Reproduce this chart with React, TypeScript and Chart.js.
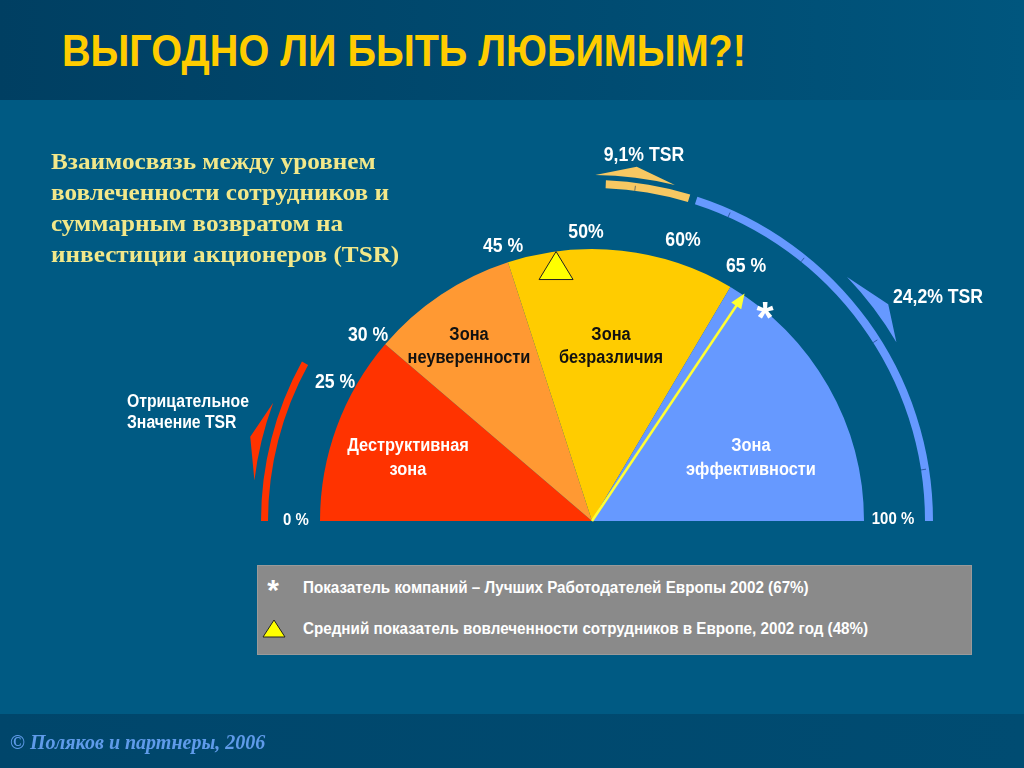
import React, { useEffect, useRef } from "react";
import { Chart, registerables } from "chart.js";

Chart.register(...registerables);

// ---- data ----
const zoneNames = ["Деструктивная зона", "Зона неуверенности", "Зона безразличия", "Зона эффективности"];
const zoneShares = [22.5, 17.5, 27, 33];
const zoneColors = ["#FF3300", "#FF9933", "#FFCC00", "#6699FF"];

const outerRingShares = [51.3, 8, 0.7, 40];
const outerRingColors = ["rgba(0,0,0,0)", "#F7C862", "rgba(0,0,0,0)", "#6699FF"];
const outerRingTicks = [54.1, 63.4, 71.6, 82, 95.1];

const innerRingShares = [16, 84];
const innerRingColors = ["#FF3300", "rgba(0,0,0,0)"];

// ring weights (outer -> inner), in px of radius
const ringWeights = [8, 2, 7, 52, 272];

const scaleLabels = ["0 %", "25 %", "30 %", "45 %", "50%", "60%", "65 %", "100 %"];
const tsrLabels = ["9,1% TSR", "24,2% TSR"];
const negativeLabel = ["Отрицательное", "Значение TSR"];

// tapered TSR arrows: [start %, peak %, end %]
const negWedge = [11.3, 7.7, 3.8];
const midWedge = [50.3, 54, 57.7];
const topWedge = [75.7, 79.9, 83.1];

const avgEngagementMark = 45.5; // triangle marker
const bestEmployersMark = 68.8; // yellow arrow

const legendTexts = [
  "Показатель компаний – Лучших Работодателей Европы 2002 (67%)",
  "Средний показатель вовлеченности сотрудников в Европе, 2002 год (48%)",
];

const SANS = '"Liberation Sans", Arial, sans-serif';
const SERIF = '"Liberation Serif", "Times New Roman", serif';

const decorPlugin = {
  id: "decor",
  afterDatasetsDraw(chart: any) {
    const outer = chart.getDatasetMeta(0).data[0] as any;
    if (!outer) return;
    const cx = outer.x;
    const cy = outer.y;
    const k = outer.outerRadius / 341;
    const ang = (p: number) => Math.PI + (p / 100) * Math.PI;
    const pt = (p: number, r: number) => [cx + r * k * Math.cos(ang(p)), cy + r * k * Math.sin(ang(p))];
    const ctx = chart.ctx as CanvasRenderingContext2D;
    ctx.save();

    // small notches on the outer ring
    ctx.strokeStyle = "rgba(0,40,90,0.55)";
    ctx.lineWidth = 1;
    outerRingTicks.forEach((p) => {
      const a = pt(p, 333);
      const b = pt(p, 338);
      ctx.beginPath();
      ctx.moveTo(a[0], a[1]);
      ctx.lineTo(b[0], b[1]);
      ctx.stroke();
    });

    const wedge = (w: number[], r0: number, r1: number, color: string) => {
      const [s, m, e] = w;
      ctx.beginPath();
      const p0 = pt(s, r0);
      ctx.moveTo(p0[0], p0[1]);
      ctx.arc(cx, cy, r0 * k, ang(s), ang(e), e < s);
      const pm = pt(m, r1);
      ctx.lineTo(pm[0], pm[1]);
      ctx.closePath();
      ctx.fillStyle = color;
      ctx.fill();
    };
    wedge(negWedge, 340, 352, "#FF3300");
    wedge(midWedge, 346, 357, "#F7C862");
    wedge(topWedge, 353, 367, "#6699FF");

    // best employers arrow
    const tip = pt(bestEmployersMark, 274);
    const dx = tip[0] - cx;
    const dy = tip[1] - cy;
    const len = Math.hypot(dx, dy);
    const ux = dx / len;
    const uy = dy / len;
    ctx.strokeStyle = "#FFFF33";
    ctx.lineWidth = 2.5;
    ctx.beginPath();
    ctx.moveTo(cx, cy);
    ctx.lineTo(tip[0] - ux * 10, tip[1] - uy * 10);
    ctx.stroke();
    ctx.fillStyle = "#FFFF33";
    ctx.beginPath();
    ctx.moveTo(tip[0], tip[1]);
    ctx.lineTo(tip[0] - ux * 15 - uy * 6, tip[1] - uy * 15 + ux * 6);
    ctx.lineTo(tip[0] - ux * 15 + uy * 6, tip[1] - uy * 15 - ux * 6);
    ctx.closePath();
    ctx.fill();

    // average engagement triangle
    const c = pt(avgEngagementMark, 255);
    ctx.beginPath();
    ctx.moveTo(c[0], c[1] - 17);
    ctx.lineTo(c[0] + 17, c[1] + 11);
    ctx.lineTo(c[0] - 17, c[1] + 11);
    ctx.closePath();
    ctx.fillStyle = "#FFFF00";
    ctx.fill();
    ctx.strokeStyle = "#222";
    ctx.lineWidth = 1;
    ctx.stroke();
    ctx.restore();
  },
};

type LP = {
  x: number;
  y: number;
  children: React.ReactNode;
  style?: React.CSSProperties;
  align?: "center" | "left";
  sx?: number;
};
function Label({ x, y, children, style, align = "center", sx = 0.84 }: LP) {
  return (
    <div
      style={{
        position: "absolute",
        left: x,
        top: y,
        transform:
          align === "center" ? `translate(-50%, -50%) scaleX(${sx})` : `translate(0, -50%) scaleX(${sx})`,
        transformOrigin: align === "center" ? "50% 50%" : "0% 50%",
        whiteSpace: "nowrap",
        fontFamily: SANS,
        fontWeight: 700,
        fontSize: 21,
        color: "#FFFFFF",
        lineHeight: 1,
        textAlign: align,
        ...style,
      }}
    >
      {children}
    </div>
  );
}

export default function App() {
  const ref = useRef<HTMLCanvasElement | null>(null);

  useEffect(() => {
    document.body.style.margin = "0";
    const canvas = ref.current;
    if (!canvas) return;
    const chart = new Chart(canvas, {
      type: "doughnut",
      data: {
        labels: zoneNames,
        datasets: [
          { data: outerRingShares, backgroundColor: outerRingColors, borderWidth: 0, weight: ringWeights[0] },
          { data: [100], backgroundColor: ["rgba(0,0,0,0)"], borderWidth: 0, weight: ringWeights[1] },
          { data: innerRingShares, backgroundColor: innerRingColors, borderWidth: 0, weight: ringWeights[2] },
          { data: [100], backgroundColor: ["rgba(0,0,0,0)"], borderWidth: 0, weight: ringWeights[3] },
          { data: zoneShares, backgroundColor: zoneColors, borderWidth: 0, weight: ringWeights[4] },
        ] as any,
      },
      options: {
        responsive: false,
        animation: false,
        events: [],
        rotation: -90,
        circumference: 180,
        cutout: 0,
        layout: { padding: { left: 251, right: 91, top: 180, bottom: 247 } },
        plugins: { legend: { display: false }, tooltip: { enabled: false } },
      } as any,
      plugins: [decorPlugin],
    });
    return () => chart.destroy();
  }, []);

  return (
    <div
      style={{
        position: "relative",
        width: 1024,
        height: 768,
        overflow: "hidden",
        background: "#005A83",
      }}
    >
      {/* title band */}
      <div
        style={{
          position: "absolute",
          left: 0,
          top: 0,
          width: 1024,
          height: 100,
          background: "linear-gradient(90deg, #003F62 0%, #004C72 60%, #00567E 100%)",
        }}
      />
      {/* footer band */}
      <div
        style={{
          position: "absolute",
          left: 0,
          top: 714,
          width: 1024,
          height: 54,
          background: "linear-gradient(90deg, #00466B 0%, #004C72 100%)",
        }}
      />
      <div
        style={{
          position: "absolute",
          left: 62,
          top: 51,
          transform: "translateY(-50%) scaleX(0.9)",
          transformOrigin: "0% 50%",
          fontFamily: SANS,
          fontWeight: 700,
          fontSize: 44,
          color: "#FFCC00",
          whiteSpace: "nowrap",
          lineHeight: 1,
        }}
      >
        ВЫГОДНО ЛИ БЫТЬ ЛЮБИМЫМ?!
      </div>

      <canvas ref={ref} width={1024} height={768} style={{ position: "absolute", left: 0, top: 0, width: 1024, height: 768 }} />

      {/* subtitle */}
      <div
        style={{
          position: "absolute",
          left: 51,
          top: 146,
          transform: "scaleX(1.05)",
          transformOrigin: "0% 0%",
          fontFamily: SERIF,
          fontWeight: 700,
          fontSize: 24,
          lineHeight: "31px",
          color: "#F2E88A",
          whiteSpace: "nowrap",
        }}
      >
        Взаимосвязь между уровнем
        <br />
        вовлеченности сотрудников и
        <br />
        суммарным возвратом на
        <br />
        инвестиции акционеров (TSR)
      </div>

      {/* scale labels */}
      <Label x={296} y={519} sx={0.88} style={{ fontSize: 17 }}>{scaleLabels[0]}</Label>
      <Label x={335} y={380}>{scaleLabels[1]}</Label>
      <Label x={368} y={333}>{scaleLabels[2]}</Label>
      <Label x={503} y={244}>{scaleLabels[3]}</Label>
      <Label x={586} y={230}>{scaleLabels[4]}</Label>
      <Label x={683} y={238}>{scaleLabels[5]}</Label>
      <Label x={746} y={264}>{scaleLabels[6]}</Label>
      <Label x={893} y={518} sx={0.88} style={{ fontSize: 17 }}>{scaleLabels[7]}</Label>

      <Label x={644} y={153}>{tsrLabels[0]}</Label>
      <Label x={938} y={295}>{tsrLabels[1]}</Label>
      <Label x={127} y={411} align="left" sx={0.9} style={{ fontSize: 17.5, lineHeight: "20.5px" }}>
        {negativeLabel[0]}
        <br />
        {negativeLabel[1]}
      </Label>

      {/* zone labels */}
      <Label x={469} y={346} sx={0.91} style={{ fontSize: 18, lineHeight: "23px", color: "#111" }}>
        Зона
        <br />
        неуверенности
      </Label>
      <Label x={611} y={346} sx={0.91} style={{ fontSize: 18, lineHeight: "23px", color: "#111" }}>
        Зона
        <br />
        безразличия
      </Label>
      <Label x={408} y={457} sx={0.91} style={{ fontSize: 18, lineHeight: "24px" }}>
        Деструктивная
        <br />
        зона
      </Label>
      <Label x={751} y={457} sx={0.91} style={{ fontSize: 18, lineHeight: "24px" }}>
        Зона
        <br />
        эффективности
      </Label>
      <Label x={765} y={318} sx={1} style={{ fontSize: 44 }}>*</Label>

      {/* legend box */}
      <div
        style={{
          position: "absolute",
          left: 257,
          top: 565,
          width: 715,
          height: 90,
          background: "#8A8A8A",
          boxShadow: "inset 0 0 0 1px #9A9A9A",
        }}
      />
      <Label x={273} y={590} sx={1} style={{ fontSize: 30 }}>*</Label>
      <Label x={303} y={588} align="left" sx={0.95} style={{ fontSize: 16 }}>{legendTexts[0]}</Label>
      <svg style={{ position: "absolute", left: 262, top: 619 }} width={24} height={19}>
        <polygon points="12,1 23,18 1,18" fill="#FFFF00" stroke="#222" strokeWidth={1} />
      </svg>
      <Label x={303} y={629} align="left" sx={0.95} style={{ fontSize: 16 }}>{legendTexts[1]}</Label>

      {/* footer */}
      <div
        style={{
          position: "absolute",
          left: 10,
          top: 742,
          transform: "translateY(-50%)",
          fontFamily: SERIF,
          fontWeight: 700,
          fontStyle: "italic",
          fontSize: 20,
          color: "#5F9BEA",
          whiteSpace: "nowrap",
        }}
      >
        © Поляков и партнеры, 2006
      </div>
    </div>
  );
}
